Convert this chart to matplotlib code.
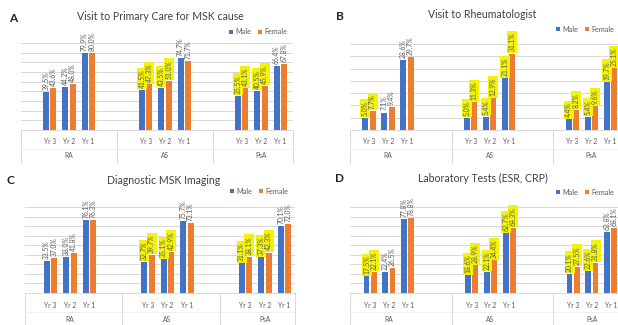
import numpy as np
import matplotlib
matplotlib.use("Agg")
import matplotlib.pyplot as plt

plt.rcParams['font.family'] = ['Lato', 'DejaVu Sans']

# ---------------- data ----------------
groups = ["RA", "AS", "PsA"]
years = ["Yr 3", "Yr 2", "Yr 1"]

# A: Visit to Primary Care for MSK cause (RA Yr3..Yr1, AS ..., PsA ...)
pc_male = [39.5, 44.2, 79.9, 41.5, 43.5, 74.7, 35.5, 40.5, 66.4]
pc_female = [43.6, 48.0, 80.0, 47.3, 51.0, 71.7, 43.1, 45.9, 67.8]

# B: Visit to Rheumatologist
rh_male = [5.0, 7.1, 28.6, 5.0, 5.4, 21.1, 4.4, 5.4, 19.7]
rh_female = [7.7, 9.4, 29.7, 11.3, 12.9, 31.1, 8.2, 9.6, 25.1]

# C: Diagnostic MSK Imaging
im_male = [33.5, 38.0, 76.1, 32.7, 35.1, 75.7, 31.1, 37.3, 70.1]
im_female = [37.0, 41.8, 76.3, 39.7, 42.9, 73.1, 38.1, 42.3, 72.0]

# D: Laboratory Tests (ESR, CRP)
lab_male = [17.5, 22.4, 77.8, 18.6, 22.1, 62.7, 20.1, 22.6, 63.8]
lab_female = [22.1, 26.5, 78.8, 28.9, 34.4, 68.3, 27.5, 31.8, 68.1]

# which data labels have yellow highlight (index into the 9 categories)
pc_hl = [3, 4, 6, 7]
rh_hl = [0, 3, 4, 5, 6, 7, 8]
im_hl = [3, 4, 6, 7]
lab_hl = [0, 3, 4, 5, 6, 7]

BLUE = "#4472C4"
ORANGE = "#ED7D31"
GRID = "#D9D9D9"
TXT = "#595959"
HL = "#F2F20A"

W, H = 618, 325
fig = plt.figure(figsize=(W / 100, H / 100), dpi=100)

# letter, title, male, female, highlight, ymax,
# left, right, base, top (px), slot px, group width / first offset (slots),
# title x/y, letter x/y, legend right x/y
panels = [
    ("A", "Visit to Primary Care for MSK cause", pc_male, pc_female, pc_hl, 90,
     21, 293, 130, 43, 19.2, 5.0, 1.5, (160, 16), (13, 18), (291, 32)),
    ("B", "Visit to Rheumatologist", rh_male, rh_female, rh_hl, 35,
     350, 618, 130, 44, 19.0, 5.35, 1.0, (482, 15), (340, 17), (618, 29)),
    ("C", "Diagnostic MSK Imaging", im_male, im_female, im_hl, 90,
     25, 295, 293, 207, 19.5, 5.0, 1.3, (164, 180), (10, 181), (292, 191)),
    ("D", "Laboratory Tests (ESR, CRP)", lab_male, lab_female, lab_hl, 90,
     350, 618, 293, 207, 18.8, 5.4, 1.07, (483, 178), (339, 179), (618, 192)),
]

for (letter, title, male, female, hl, ymax, left, right, base, top, slot,
     gw, off, tpos, lpos, legpos) in panels:
    ax = fig.add_axes([left / W, 1 - base / H, (right - left) / W, (base - top) / H])
    hpx = base - top
    xr = (right - left) / slot
    pos = np.array([g * gw + off + i for g in range(3) for i in range(3)])
    ax.set_xlim(0, xr)
    ax.set_ylim(0, ymax)
    step = 5 if ymax == 35 else 10
    ax.set_yticks(np.arange(step, ymax + 0.1, step))
    ax.yaxis.grid(True, color=GRID, linewidth=0.7)
    ax.set_axisbelow(True)
    ax.tick_params(left=False, labelleft=False, bottom=False, labelbottom=False)
    for s in ["left", "right", "top"]:
        ax.spines[s].set_visible(False)
    ax.spines["bottom"].set_color(GRID)
    ax.spines["bottom"].set_linewidth(0.7)

    bm = ax.bar(pos - 0.19, male, width=0.31, color=BLUE, label="Male")
    bf = ax.bar(pos + 0.19, female, width=0.31, color=ORANGE, label="Female")

    for k in range(9):
        for xb, v in ((pos[k] - 0.19, male[k]), (pos[k] + 0.19, female[k])):
            box = None
            if k in hl:
                box = dict(boxstyle="square,pad=0.22", fc=HL, ec="none")
            ax.annotate(f"{v:.1f}%", xy=(xb, v), xytext=(0, 1.5),
                        textcoords="offset points", rotation=90,
                        ha="center", va="bottom", fontsize=4.9, color=TXT,
                        bbox=box, annotation_clip=False)

    # multi-level category axis box
    tr = ax.get_xaxis_transform()
    for xv in [0, gw, 2 * gw, xr]:
        ax.plot([xv, xv], [0, -33 / hpx], transform=tr, color=GRID,
                linewidth=0.7, clip_on=False)
    ax.plot([0, xr], [-19 / hpx, -19 / hpx], transform=tr, color="#EDEDED",
            linewidth=0.6, clip_on=False)
    for k in range(9):
        ax.text(pos[k], -12 / hpx, years[k % 3], transform=tr, ha="center",
                va="center", fontsize=4.8, color=TXT)
    for g in range(3):
        ax.text(g * gw + off + 1, -26 / hpx, groups[g], transform=tr, ha="center",
                va="center", fontsize=4.8, color=TXT)

    fig.text(tpos[0] / W, 1 - tpos[1] / H, title, ha="center", va="center",
             fontsize=7.6, color="#404040")
    fig.text(lpos[0] / W, 1 - lpos[1] / H, letter, ha="center", va="center",
             fontsize=8.5, fontweight="bold", color="#222222")
    fig.legend(handles=[bm, bf], loc="center right",
               bbox_to_anchor=(legpos[0] / W, 1 - legpos[1] / H),
               ncol=2, frameon=False, fontsize=5.2, handlelength=0.55,
               handleheight=0.55, handletextpad=0.35, columnspacing=0.9,
               borderpad=0, labelcolor=TXT)

fig.savefig("out.png", dpi=100)
